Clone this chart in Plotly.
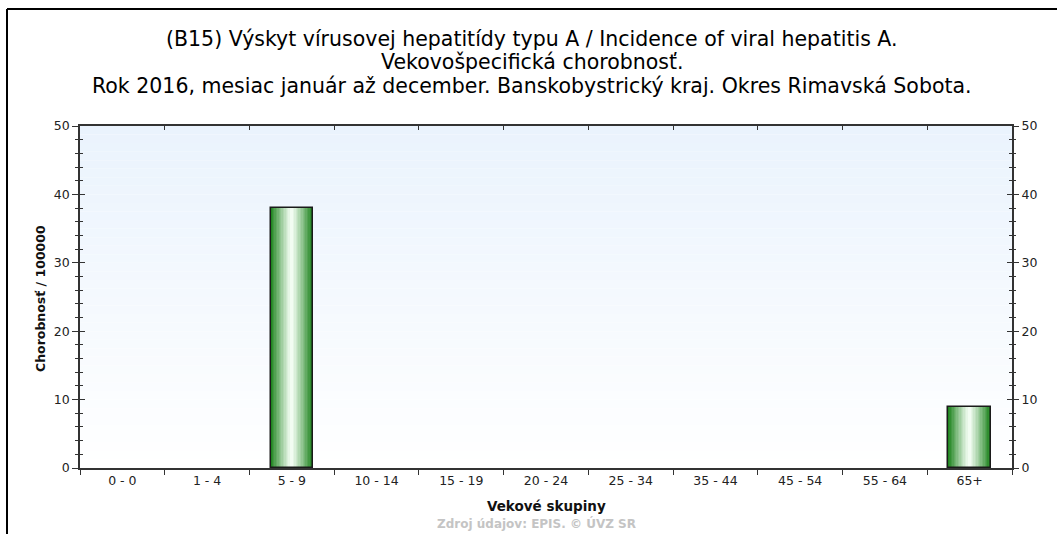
import plotly.graph_objects as go

categories = ["0 - 0", "1 - 4", "5 - 9", "10 - 14", "15 - 19", "20 - 24",
              "25 - 34", "35 - 44", "45 - 54", "55 - 64", "65+"]
values = [0, 0, 38.0, 0, 0, 0, 0, 0, 0, 0, 8.9]
y_ticks = [0, 10, 20, 30, 40, 50]

title_lines = [
    "(B15) Výskyt vírusovej hepatitídy typu A / Incidence of viral hepatitis A.",
    "Vekovošpecifická chorobnosť.",
    "Rok 2016, mesiac január až december. Banskobystrický kraj. Okres Rimavská Sobota.",
]
x_title = "Vekové skupiny"
y_title = "Chorobnosť / 100000"
source = "Zdroj údajov: EPIS. © ÚVZ SR"

W, H = 1057, 534
ML, MR, MT, MB = 80, 45, 126, 66
PW, PH = W - ML - MR, H - MT - MB


def px_x(x):
    return (x - ML) / PW


def px_y(y):
    return (H - MB - y) / PH


def lerp(c1, c2, t):
    return "rgb(%d,%d,%d)" % tuple(round(a + (b - a) * t) for a, b in zip(c1, c2))


fig = go.Figure()

# gradient bars built from stripes
bar_w = 0.5
n = 30
dark = (24, 128, 24)
white = (246, 255, 246)
for i in range(n):
    u = (i + 0.5) / n
    d = abs(2 * u - 1)
    col = lerp(white, dark, d ** 1.15)
    fig.add_trace(go.Bar(
        x=categories, y=values, width=bar_w / n,
        offset=-bar_w / 2 + i * bar_w / n,
        marker=dict(color=col, line=dict(width=0)),
        hoverinfo="skip", showlegend=False))
# outline (only for non-zero bars)
fig.add_trace(go.Bar(
    x=categories, y=values, width=bar_w, offset=-bar_w / 2,
    marker=dict(color="rgba(0,0,0,0)",
                line=dict(color="#1a1a1a",
                          width=[1.5 if v > 0 else 0 for v in values])),
    showlegend=False))

# helper invisible traces for auxiliary axes
fig.add_trace(go.Scatter(x=categories, y=values, xaxis="x", yaxis="y2",
                         mode="markers", marker=dict(opacity=0),
                         hoverinfo="skip", showlegend=False))
fig.add_trace(go.Scatter(x=categories, y=values, xaxis="x2", yaxis="y3",
                         mode="markers", marker=dict(opacity=0),
                         hoverinfo="skip", showlegend=False))

# background gradient bands
top_c = (234, 243, 253)
bot_c = (255, 255, 255)
nb = 40
for i in range(nb):
    t = i / (nb - 1)
    fig.add_shape(type="rect", xref="x domain", yref="y domain",
                  x0=0, x1=1, y0=1 - (i + 1) / nb, y1=1 - i / nb,
                  fillcolor=lerp(top_c, bot_c, t), line=dict(width=0),
                  layer="below")

# outer frame (top and left edges)
fig.add_shape(type="line", xref="paper", yref="paper",
              x0=px_x(7), x1=px_x(1070), y0=px_y(9), y1=px_y(9),
              line=dict(color="black", width=2))
fig.add_shape(type="line", xref="paper", yref="paper",
              x0=px_x(7), x1=px_x(7), y0=px_y(9), y1=px_y(560),
              line=dict(color="black", width=2))

tick_font = dict(family="DejaVu Sans", size=12.5, color="#222")
axis_col = "#333"

fig.update_layout(
    width=W, height=H,
    margin=dict(l=ML, r=MR, t=MT, b=MB),
    paper_bgcolor="white", plot_bgcolor="white",
    barmode="overlay", bargap=0, showlegend=False,
    xaxis=dict(type="category", categoryorder="array", categoryarray=categories,
               range=[-0.5, 10.5], ticks="outside", tickson="boundaries",
               ticklen=5, tickcolor=axis_col, tickwidth=1.2,
               showline=True, linecolor=axis_col, linewidth=1.5, mirror=True,
               showgrid=False, tickfont=tick_font, fixedrange=True),
    xaxis2=dict(type="category", categoryorder="array", categoryarray=categories,
                overlaying="x", side="top", range=[-0.5, 10.5],
                ticks="inside", tickson="boundaries", ticklen=4,
                tickcolor=axis_col, tickwidth=1.2, showticklabels=False,
                showline=False, showgrid=False),
    yaxis=dict(range=[0, 50], tickvals=y_ticks, ticks="outside", ticklen=6,
               tickcolor=axis_col, tickwidth=1.2,
               minor=dict(dtick=2, ticks="outside", ticklen=3,
                          tickcolor=axis_col, tickwidth=1.2),
               showline=True, linecolor=axis_col, linewidth=1.5, mirror=True,
               showgrid=False, zeroline=False, tickfont=tick_font),
    yaxis2=dict(range=[0, 50], tickvals=y_ticks, overlaying="y", side="right",
                ticks="outside", ticklen=6, tickcolor=axis_col, tickwidth=1.2,
                minor=dict(dtick=2, ticks="outside", ticklen=3,
                           tickcolor=axis_col, tickwidth=1.2),
                showline=False, showgrid=False, zeroline=False,
                tickfont=tick_font),
    yaxis3=dict(range=[0, 50], tickvals=y_ticks, overlaying="y", side="left",
                ticks="inside", ticklen=5, tickcolor=axis_col, tickwidth=1.2,
                minor=dict(dtick=2, ticks="inside", ticklen=3,
                           tickcolor=axis_col, tickwidth=1.2),
                mirror="ticks", showline=False, showgrid=False,
                zeroline=False, showticklabels=False),
)

# title lines
for txt, yc in zip(title_lines, [39, 62, 86]):
    fig.add_annotation(text=txt, xref="paper", yref="paper",
                       x=px_x(532), y=px_y(yc), xanchor="center", yanchor="middle",
                       showarrow=False,
                       font=dict(family="DejaVu Sans", size=20.5, color="black"))

fig.add_annotation(text="<b>%s</b>" % x_title, xref="paper", yref="paper",
                   x=0.5, y=px_y(506), xanchor="center", yanchor="middle",
                   showarrow=False,
                   font=dict(family="DejaVu Sans", size=13.5, color="#111"))
fig.add_annotation(text="<b>%s</b>" % y_title, xref="paper", yref="paper",
                   x=px_x(40), y=px_y(299), xanchor="center", yanchor="middle",
                   textangle=-90, showarrow=False,
                   font=dict(family="DejaVu Sans", size=12.5, color="#111"))
fig.add_annotation(text="<b>%s</b>" % source, xref="paper", yref="paper",
                   x=px_x(536), y=px_y(523), xanchor="center", yanchor="middle",
                   showarrow=False,
                   font=dict(family="DejaVu Sans", size=12, color="#c4c4c4"))

fig.write_html("out.html", config={"displayModeBar": False},
               post_script="document.body.style.margin='0px';")
